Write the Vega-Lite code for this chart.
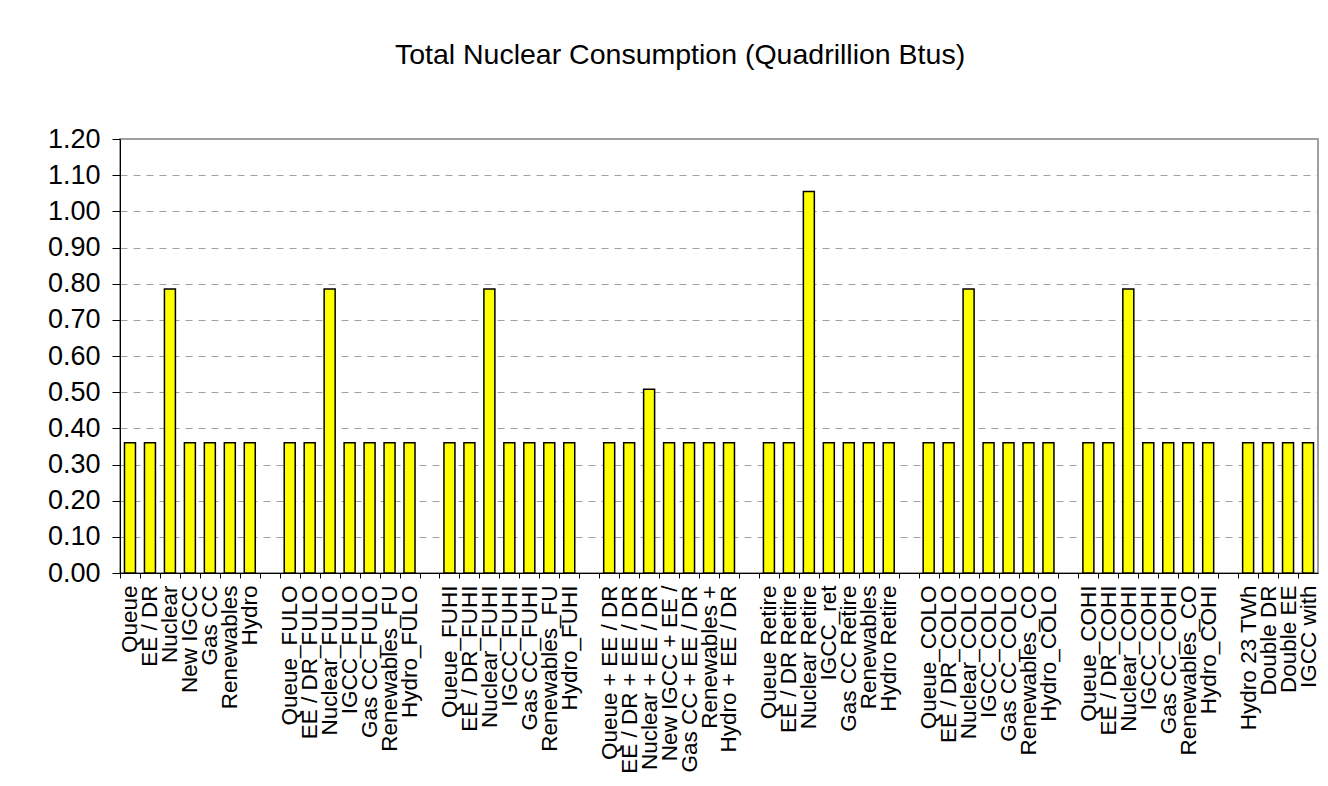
{
  "$schema": "https://vega.github.io/schema/vega-lite/v6.json",
  "autosize": {"type": "none"},
  "width": 1198,
  "height": 434,
  "padding": {"left": 120, "top": 139, "right": 10, "bottom": 213},
  "background": "white",
  "title": {"text": "Total Nuclear Consumption (Quadrillion Btus)", "fontSize": 28.5, "font": "Liberation Sans", "fontWeight": "normal", "color": "black", "anchor": "middle", "offset": 56, "dx": -39},
  "data": {"values": [
    {"scenario": "Queue", "value": 0.36},
    {"scenario": "EE / DR", "value": 0.36},
    {"scenario": "Nuclear", "value": 0.785},
    {"scenario": "New IGCC", "value": 0.36},
    {"scenario": "Gas CC", "value": 0.36},
    {"scenario": "Renewables", "value": 0.36},
    {"scenario": "Hydro", "value": 0.36},
    {"scenario": " ", "value": null},
    {"scenario": "Queue_FULO", "value": 0.36},
    {"scenario": "EE / DR_FULO", "value": 0.36},
    {"scenario": "Nuclear_FULO", "value": 0.785},
    {"scenario": "IGCC_FULO", "value": 0.36},
    {"scenario": "Gas CC_FULO", "value": 0.36},
    {"scenario": "Renewables_FU", "value": 0.36},
    {"scenario": "Hydro_FULO", "value": 0.36},
    {"scenario": "  ", "value": null},
    {"scenario": "Queue_FUHI", "value": 0.36},
    {"scenario": "EE / DR_FUHI", "value": 0.36},
    {"scenario": "Nuclear_FUHI", "value": 0.785},
    {"scenario": "IGCC_FUHI", "value": 0.36},
    {"scenario": "Gas CC_FUHI", "value": 0.36},
    {"scenario": "Renewables_FU\u200b", "value": 0.36},
    {"scenario": "Hydro_FUHI", "value": 0.36},
    {"scenario": "   ", "value": null},
    {"scenario": "Queue + EE / DR", "value": 0.36},
    {"scenario": "EE / DR + EE / DR", "value": 0.36},
    {"scenario": "Nuclear + EE / DR", "value": 0.508},
    {"scenario": "New IGCC + EE /", "value": 0.36},
    {"scenario": "Gas CC + EE / DR", "value": 0.36},
    {"scenario": "Renewables +", "value": 0.36},
    {"scenario": "Hydro + EE / DR", "value": 0.36},
    {"scenario": "    ", "value": null},
    {"scenario": "Queue Retire", "value": 0.36},
    {"scenario": "EE / DR Retire", "value": 0.36},
    {"scenario": "Nuclear Retire", "value": 1.055},
    {"scenario": "IGCC_ret", "value": 0.36},
    {"scenario": "Gas CC Retire", "value": 0.36},
    {"scenario": "Renewables\u200b", "value": 0.36},
    {"scenario": "Hydro Retire", "value": 0.36},
    {"scenario": "     ", "value": null},
    {"scenario": "Queue_COLO", "value": 0.36},
    {"scenario": "EE / DR_COLO", "value": 0.36},
    {"scenario": "Nuclear_COLO", "value": 0.785},
    {"scenario": "IGCC_COLO", "value": 0.36},
    {"scenario": "Gas CC_COLO", "value": 0.36},
    {"scenario": "Renewables_CO", "value": 0.36},
    {"scenario": "Hydro_COLO", "value": 0.36},
    {"scenario": "      ", "value": null},
    {"scenario": "Queue_COHI", "value": 0.36},
    {"scenario": "EE / DR_COHI", "value": 0.36},
    {"scenario": "Nuclear_COHI", "value": 0.785},
    {"scenario": "IGCC_COHI", "value": 0.36},
    {"scenario": "Gas CC_COHI", "value": 0.36},
    {"scenario": "Renewables_CO\u200b", "value": 0.36},
    {"scenario": "Hydro_COHI", "value": 0.36},
    {"scenario": "       ", "value": null},
    {"scenario": "Hydro 23 TWh", "value": 0.36},
    {"scenario": "Double DR", "value": 0.36},
    {"scenario": "Double EE", "value": 0.36},
    {"scenario": "IGCC with", "value": 0.36}
  ]},
  "layer": [
    {
      "mark": {"type": "point", "opacity": 0},
      "encoding": {
        "x": {
          "field": "scenario", "type": "nominal", "sort": null,
          "scale": {"paddingInner": 0, "paddingOuter": 0},
          "axis": {"title": null, "labelAngle": -90, "labelFontSize": 22.5, "labelFont": "Liberation Sans", "labelColor": "black", "labelOverlap": false, "labelLimit": 400, "tickSize": 5, "tickColor": "black", "domainColor": "black", "tickOffset": -9.98, "labelOffset": 9.98, "labelPadding": 7, "grid": false}
        }
      }
    },
    {
      "mark": {"type": "bar", "fill": "#ffff00", "stroke": "black", "strokeWidth": 1.5, "width": {"band": 0.55}},
      "encoding": {
        "x": {"field": "scenario", "type": "nominal", "sort": null},
        "y": {
          "field": "value", "type": "quantitative",
          "scale": {"domain": [0, 1.2], "nice": false},
          "axis": {"title": null, "values": [0, 0.1, 0.2, 0.3, 0.4, 0.5, 0.6, 0.7, 0.8, 0.9, 1.0, 1.1, 1.2], "format": ".2f", "labelFontSize": 27, "labelFont": "Liberation Sans", "labelColor": "black", "tickSize": 8, "tickColor": "black", "domainColor": "black", "labelPadding": 12, "grid": true, "gridDash": [7, 6], "gridColor": "#a0a0a0", "gridWidth": 1}
        }
      }
    }
  ],
  "config": {"view": {"stroke": "#808080", "strokeWidth": 1.5}}
}
